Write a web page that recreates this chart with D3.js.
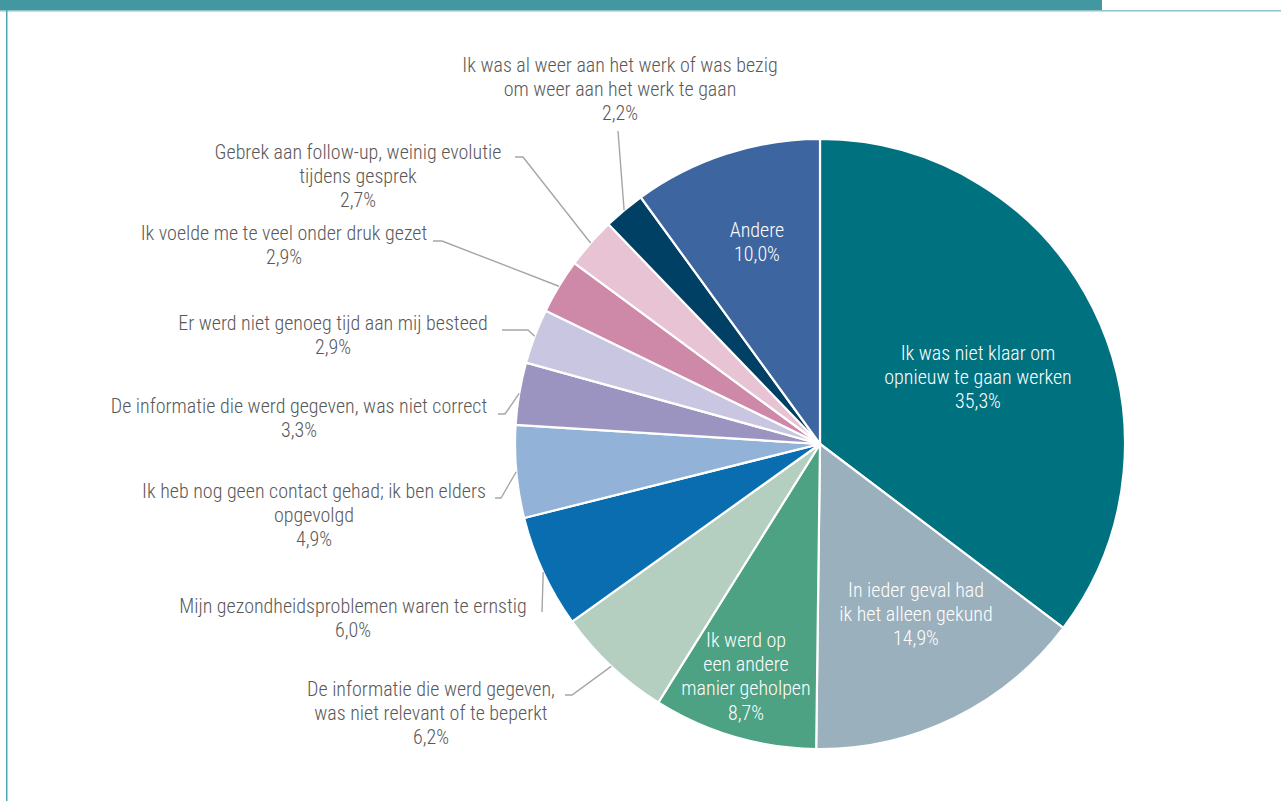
<!DOCTYPE html>
<html>
<head>
<meta charset="utf-8">
<script src="https://cdn.jsdelivr.net/npm/d3@7"></script>
<style>
  html, body { margin: 0; padding: 0; background: #ffffff; }
  svg { display: block; }
  .lbl { font-family: 'Roboto Condensed', 'Liberation Sans Narrow', 'Arial Narrow', sans-serif; font-size: 20px; font-weight: 300; }
</style>
</head>
<body>
<svg id="chart" width="1281" height="801"></svg>
<script>
// Reasons given, in clockwise order starting at 12 o'clock
const categories = [
  ["Ik was niet klaar om", "opnieuw te gaan werken"],
  ["In ieder geval had", "ik het alleen gekund"],
  ["Ik werd op", "een andere", "manier geholpen"],
  ["De informatie die werd gegeven,", "was niet relevant of te beperkt"],
  ["Mijn gezondheidsproblemen waren te ernstig"],
  ["Ik heb nog geen contact gehad; ik ben elders", "opgevolgd"],
  ["De informatie die werd gegeven, was niet correct"],
  ["Er werd niet genoeg tijd aan mij besteed"],
  ["Ik voelde me te veel onder druk gezet"],
  ["Gebrek aan follow-up, weinig evolutie", "tijdens gesprek"],
  ["Ik was al weer aan het werk of was bezig", "om weer aan het werk te gaan"],
  ["Andere"]
];
const values = [35.3, 14.9, 8.7, 6.2, 6.0, 4.9, 3.3, 2.9, 2.9, 2.7, 2.2, 10.0];
const colors = ["#00717f", "#9ab0bc", "#4ca283", "#b4cfbf", "#0a6db0", "#93b2d7",
                "#9b94c0", "#c8c6e0", "#ce89a9", "#e7c3d4", "#004065", "#3d65a0"];

// Label placement: inside labels (white) or outside labels with leader lines
// x = centre of text block, y = baseline of first line
const labelLayout = [
  { inside: true, x: 978, y: 360 },
  { inside: true, x: 916, y: 597 },
  { inside: true, x: 746, y: 647 },
  { inside: false, x: 431, y: 696, leader: [[565, 695], [572, 695]] },
  { inside: false, x: 353, y: 613, leader: [[542, 612]] },
  { inside: false, x: 314, y: 498, leader: [[495, 498], [501, 498]] },
  { inside: false, x: 299, y: 413, leader: [[498, 414], [505, 414]] },
  { inside: false, x: 333, y: 330, leader: [[502, 330], [528, 330]] },
  { inside: false, x: 284, y: 240, leader: [[433, 241], [442, 241]] },
  { inside: false, x: 358, y: 159, leader: [[515, 157], [523, 157]] },
  { inside: false, x: 620, y: 72, leader: [[618, 131]] },
  { inside: true, x: 757, y: 237 }
];

const fmt = v => d3.format(".1f")(v).replace(".", ",") + "%";

const svg = d3.select("#chart");
const W = 1281, H = 801;
const cx = 820, cy = 444, R = 305;

// Frame: top band and left rule
svg.append("rect").attr("x", 0).attr("y", 0).attr("width", 1102).attr("height", 10).attr("fill", "#4397a0");
svg.append("rect").attr("x", 0).attr("y", 10).attr("width", W).attr("height", 1.5).attr("fill", "#8ec4c9");
svg.append("rect").attr("x", 6).attr("y", 10).attr("width", 1.5).attr("height", H - 10).attr("fill", "#4ba9b1");

const data = values.map((v, i) => ({ v, i }));
const pie = d3.pie().value(d => d.v).sort(null).startAngle(0).endAngle(2 * Math.PI);
const arcs = pie(data);

const arc = d3.arc().innerRadius(0).outerRadius(R);
const edgeArc = d3.arc().innerRadius(R).outerRadius(R);

const g = svg.append("g").attr("transform", `translate(${cx},${cy})`);
g.selectAll("path.slice")
  .data(arcs)
  .join("path")
  .attr("class", "slice")
  .attr("d", arc)
  .attr("fill", d => colors[d.data.i])
  .attr("stroke", "#ffffff")
  .attr("stroke-width", 2.2)
  .attr("stroke-linejoin", "round");

// Leader lines from the label to the middle of the slice's outer edge
const line = d3.line();
arcs.forEach(a => {
  const L = labelLayout[a.data.i];
  if (L.inside) return;
  const c = edgeArc.centroid(a);
  const pts = L.leader.map(p => [p[0], p[1]]).concat([[c[0] + cx, c[1] + cy]]);
  svg.append("path")
    .attr("d", line(pts))
    .attr("fill", "none")
    .attr("stroke", "#a6a6a6")
    .attr("stroke-width", 1.4);
});

// Text labels
arcs.forEach(a => {
  const i = a.data.i;
  const L = labelLayout[i];
  const lines = categories[i].concat([fmt(values[i])]);
  const t = svg.append("text")
    .attr("class", "lbl")
    .attr("text-anchor", "middle")
    .attr("fill", L.inside ? "#ffffff" : "#595959");
  lines.forEach((s, k) => {
    t.append("tspan").attr("x", L.x).attr("y", L.y + k * 24.2).text(s);
  });
});
</script>
</body>
</html>
